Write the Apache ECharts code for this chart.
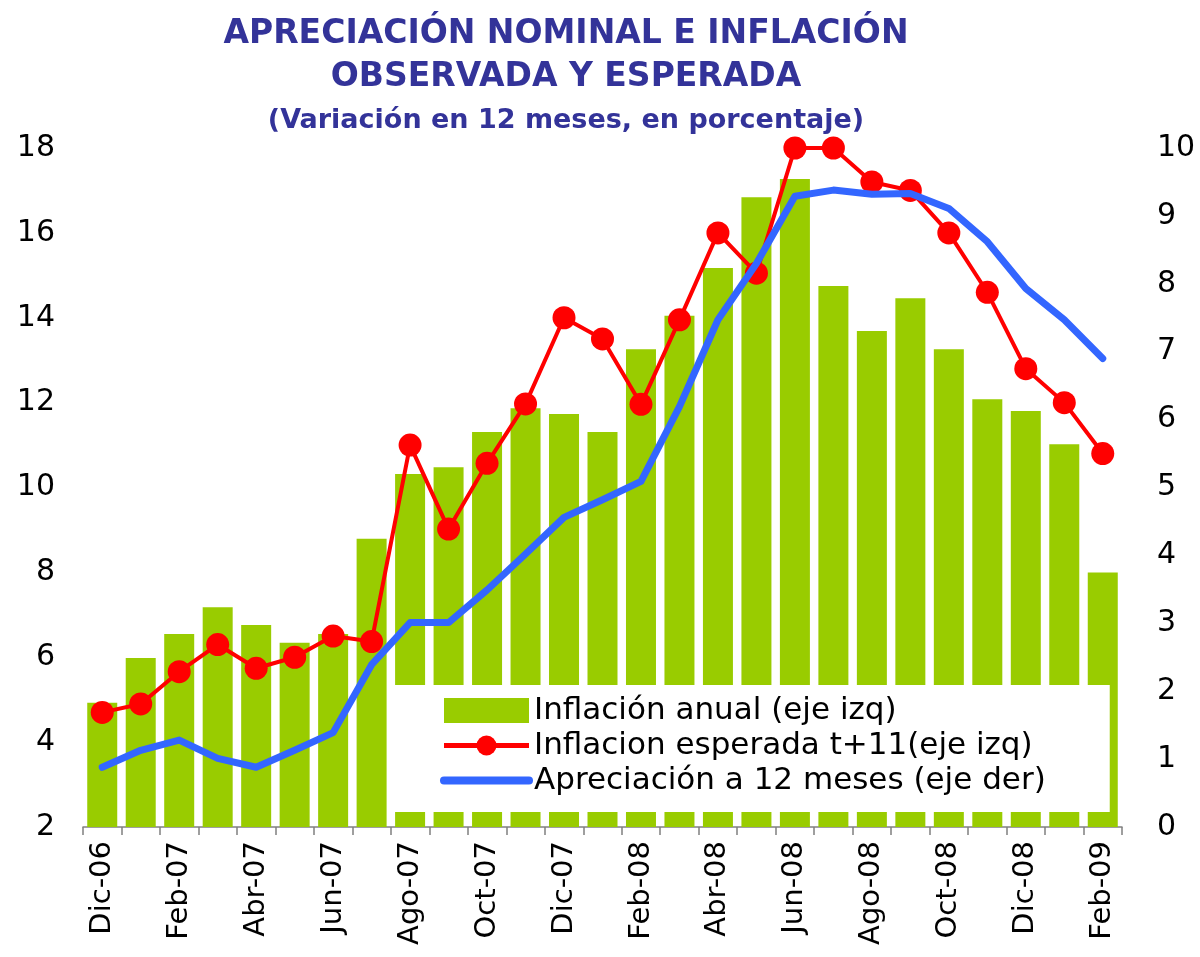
<!DOCTYPE html>
<html>
<head>
<meta charset="utf-8">
<script src="https://cdn.jsdelivr.net/npm/echarts@6/dist/echarts.min.js"></script>
<style>
  html, body { margin: 0; padding: 0; background: #fff; }
  #mainChart { width: 1200px; height: 957px; }
</style>
</head>
<body>
<div id="mainChart"></div>
<script type="text/javascript">
// meses
var meses = ['Dic-06', 'Ene-07', 'Feb-07', 'Mar-07', 'Abr-07', 'May-07', 'Jun-07', 'Jul-07',
    'Ago-07', 'Sep-07', 'Oct-07', 'Nov-07', 'Dic-07', 'Ene-08', 'Feb-08', 'Mar-08', 'Abr-08',
    'May-08', 'Jun-08', 'Jul-08', 'Ago-08', 'Sep-08', 'Oct-08', 'Nov-08', 'Dic-08', 'Ene-09', 'Feb-09'];

// inflacion anual (eje izq)
var inflacionAnual = [4.93, 5.98, 6.55, 7.18, 6.76, 6.34, 6.55, 8.79, 10.32, 10.48, 11.31, 11.87, 11.73,
    11.31, 13.26, 14.05, 15.17, 16.84, 17.27, 14.75, 13.69, 14.46, 13.26, 12.08, 11.8, 11.02, 8.0];

// inflacion esperada t+11 (eje izq)
var inflacionEsperada = [4.7, 4.9, 5.66, 6.3, 5.74, 6.0, 6.5, 6.37, 11.0, 9.02, 10.57, 11.97, 14.0,
    13.5, 11.96, 13.95, 16.0, 15.05, 18.0, 18.0, 17.2, 17.0, 16.0, 14.6, 12.8, 12.0, 10.8];

// apreciacion a 12 meses (eje der)
var apreciacion = [0.88, 1.13, 1.28, 1.01, 0.88, 1.13, 1.39, 2.39, 3.01, 3.01, 3.49, 4.02, 4.56,
    4.82, 5.09, 6.19, 7.47, 8.3, 9.29, 9.38, 9.32, 9.33, 9.11, 8.62, 7.93, 7.47, 6.9];

var nombres = ['Inflación anual (eje izq)', 'Inflacion esperada t+11(eje izq)', 'Apreciación a 12 meses (eje der)'];

var fuente = 'DejaVu Sans';
var myChart = echarts.init(document.getElementById('mainChart'));

var options = {
    backgroundColor: '#ffffff',
    animation: false,
    title: [{
        text: 'APRECIACIÓN NOMINAL E INFLACIÓN\nOBSERVADA Y ESPERADA',
        left: 561, top: 8, textAlign: 'center',
        textStyle: { fontFamily: fuente, fontWeight: 'bold', fontSize: 33, lineHeight: 43, color: '#333399' }
    }, {
        text: '(Variación en 12 meses, en porcentaje)',
        left: 561, top: 101, textAlign: 'center',
        textStyle: { fontFamily: fuente, fontWeight: 'bold', fontSize: 27, lineHeight: 30, color: '#333399' }
    }],
    legend: {
        orient: 'vertical',
        left: 389, top: 685,
        padding: [8, 64, 14, 51],
        backgroundColor: '#ffffff',
        itemWidth: 85, itemHeight: 25,
        itemGap: 0, itemTextGap: 13,
        lineStyle: { width: 'inherit' },
        textStyle: { fontFamily: fuente, fontSize: 31, lineHeight: 35, color: '#000' },
        data: [
            { name: nombres[0], icon: 'rect' },
            { name: nombres[1], lineStyle: { width: 5 } },
            { name: nombres[2], lineStyle: { width: 8 }, itemStyle: { opacity: 0 } }
        ]
    },
    grid: { left: 83, right: 78, top: 148, bottom: 130, containLabel: false, outerBoundsMode: 'none' },
    xAxis: [{
        type: 'category',
        data: meses,
        boundaryGap: true,
        axisLine: { show: true, lineStyle: { color: '#808080', width: 1.5 } },
        axisTick: { show: true, interval: 0, length: 8, lineStyle: { color: '#808080', width: 1.5 } },
        axisLabel: { interval: 1, rotate: 90, margin: 14, fontFamily: fuente, fontSize: 29, color: '#000' }
    }],
    yAxis: [{
        type: 'value', min: 2, max: 18, interval: 2,
        axisLine: { show: false }, axisTick: { show: false }, splitLine: { show: false },
        axisLabel: { margin: 28, fontFamily: fuente, fontSize: 30, color: '#000' }
    }, {
        type: 'value', min: 0, max: 10, interval: 1,
        axisLine: { show: false }, axisTick: { show: false }, splitLine: { show: false },
        axisLabel: { margin: 35, fontFamily: fuente, fontSize: 30, color: '#000', align: 'left' }
    }],
    series: [{
        name: nombres[0],
        type: 'bar',
        yAxisIndex: 0,
        data: inflacionAnual,
        barWidth: 30,
        itemStyle: { color: '#99CC00' }
    }, {
        name: nombres[1],
        type: 'line',
        yAxisIndex: 0,
        data: inflacionEsperada,
        symbol: 'circle', symbolSize: 23,
        clip: false,
        itemStyle: { color: '#FF0000' },
        lineStyle: { color: '#FF0000', width: 4 },
        z: 3
    }, {
        name: nombres[2],
        type: 'line',
        yAxisIndex: 1,
        data: apreciacion,
        symbol: 'none',
        clip: false,
        itemStyle: { color: '#3366FF' },
        lineStyle: { color: '#3366FF', width: 7, cap: 'round', join: 'round' },
        z: 4
    }]
};

myChart.setOption(options);
</script>
</body>
</html>
